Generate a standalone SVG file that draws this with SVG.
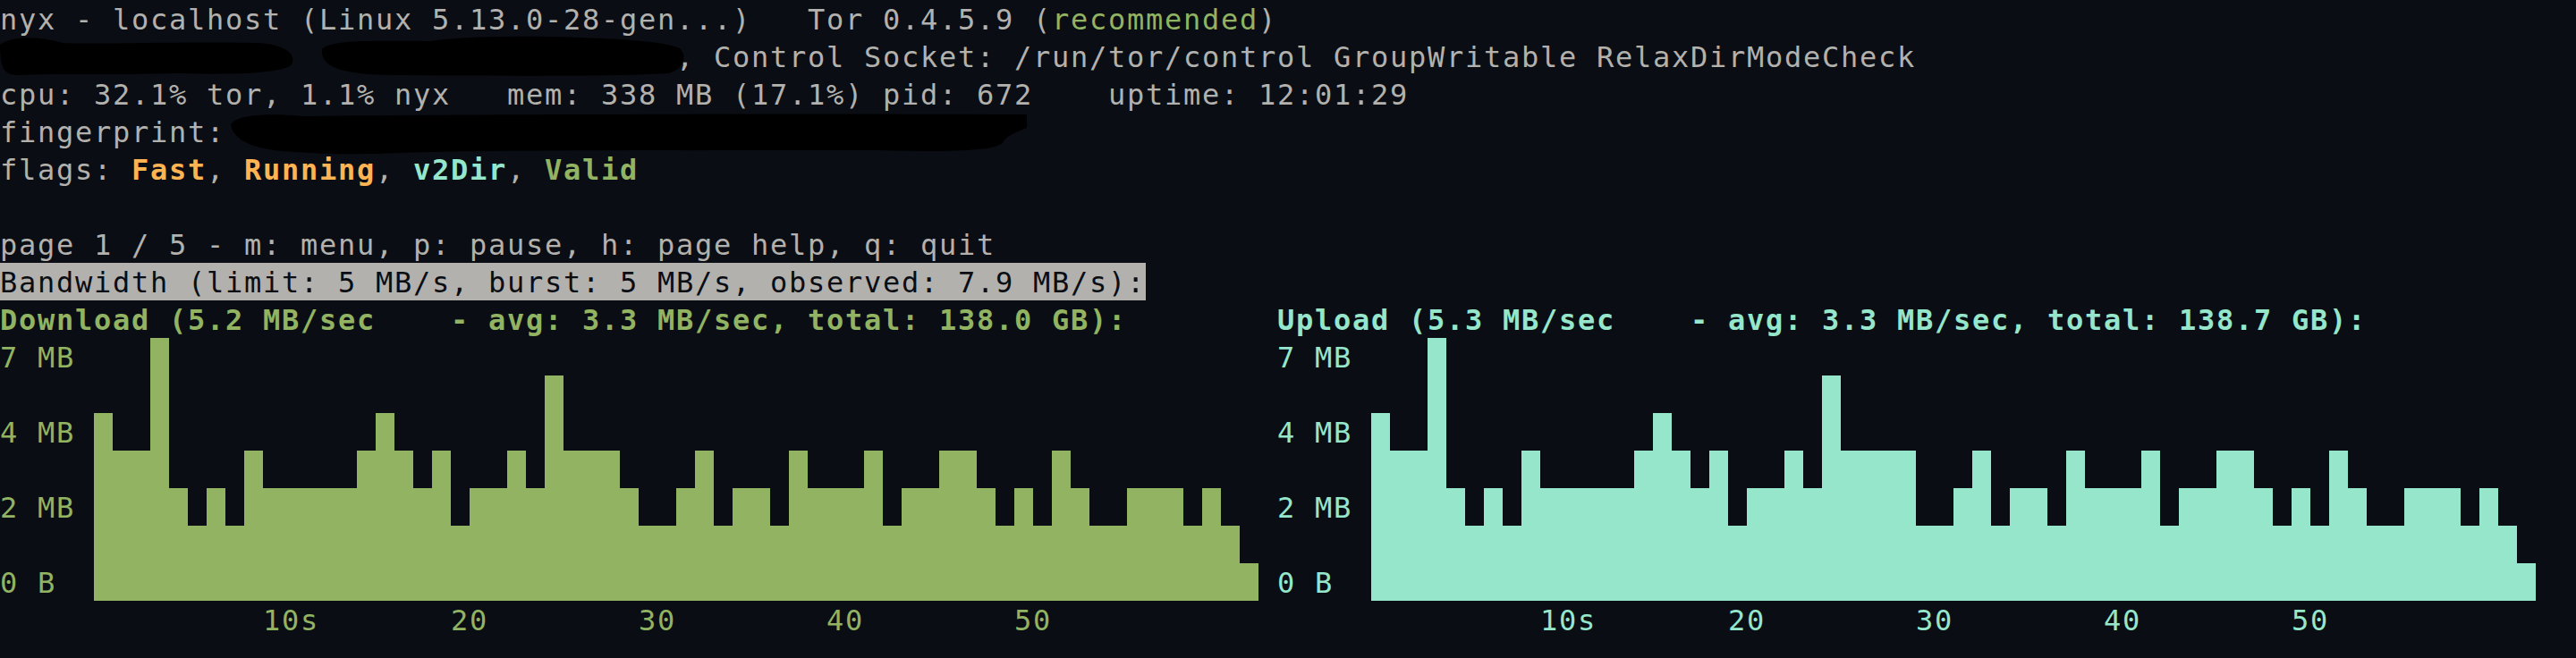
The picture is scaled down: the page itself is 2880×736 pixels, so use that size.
<svg xmlns="http://www.w3.org/2000/svg" width="2880" height="736" viewBox="0 0 2880 736">
<style>
text{font-family:"DejaVu Sans Mono","Liberation Mono",monospace;font-size:32px;letter-spacing:1.734px}
.fg{fill:#B3B1AD}
.inv{fill:#0A0E14}
.gr{fill:#91B362}
.cy{fill:#95E6CB}
.or{fill:#FFB454}
.b{font-weight:bold}
.blob{fill:#000000}
</style>
<rect id="background" x="0" y="0" width="2880" height="736" fill="#0A0E14"/>
<g id="header">
<text class="fg" y="32.5"><tspan x="0">nyx - localhost (Linux 5.13.0-28-gen...)</tspan><tspan x="903">Tor 0.4.5.9 (</tspan><tspan x="1176" class="gr">recommended</tspan><tspan x="1407">)</tspan></text>
<text class="fg" y="74.5"><tspan x="756">,</tspan><tspan x="798">Control Socket: /run/tor/control GroupWritable RelaxDirModeCheck</tspan></text>
<text class="fg" y="116.5"><tspan x="0">cpu: 32.1% tor, 1.1% nyx</tspan><tspan x="567">mem: 338 MB (17.1%) pid: 672</tspan><tspan x="1239">uptime: 12:01:29</tspan></text>
<text class="fg" y="158.5" x="0">fingerprint:</text>
<text class="fg" y="200.5"><tspan x="0">flags:</tspan><tspan x="147" class="or b">Fast</tspan><tspan x="231">,</tspan><tspan x="273" class="or b">Running</tspan><tspan x="420">,</tspan><tspan x="462" class="cy b">v2Dir</tspan><tspan x="567">,</tspan><tspan x="609" class="gr b">Valid</tspan></text>
</g>
<g id="redactions">
<path class="blob" d="M0,50 C12,40 45,40 70,48 C100,50 200,46 290,48 C318,50 332,60 326,72 C318,82 260,84 200,82 C130,84 60,82 20,84 C4,84 0,76 0,50 Z"/>
<path class="blob" d="M360,55 C370,44 420,46 480,46 C520,40 600,40 650,42 C700,44 740,46 760,54 C768,62 766,76 748,82 C680,86 540,85 440,84 C380,84 358,74 360,55 Z"/>
<path class="blob" d="M258,140 C262,128 300,126 340,130 C500,128 800,127 1148,128 L1148,143 C1136,148 1124,152 1121,160 C1110,170 1050,170 980,168 C800,168 600,168 480,170 C420,172 380,174 330,170 C290,168 262,160 258,140 Z"/>
</g>
<g id="menu">
<text class="fg" x="0" y="284.5">page 1 / 5 - m: menu, p: pause, h: page help, q: quit</text>
</g>
<g id="bandwidth-title">
<rect x="0" y="294" width="1281" height="42" fill="#B3B1AD"/>
<text class="inv" x="0" y="326.5">Bandwidth (limit: 5 MB/s, burst: 5 MB/s, observed: 7.9 MB/s):</text>
</g>
<g id="download-graph">
<text class="gr b" y="368.5"><tspan x="0">Download (5.2 MB/sec</tspan><tspan x="504">- avg: 3.3 MB/sec, total: 138.0 GB):</tspan></text>
<text class="gr" x="0" y="410.5">7 MB</text>
<text class="gr" x="0" y="494.5">4 MB</text>
<text class="gr" x="0" y="578.5">2 MB</text>
<text class="gr" x="0" y="662.5">0 B</text>
<path class="gr" d="M105 672 V462 H126 V504 H168 V378 H189 V546 H210 V588 H231 V546 H252 V588 H273 V504 H294 V546 H399 V504 H420 V462 H441 V504 H462 V546 H483 V504 H504 V588 H525 V546 H567 V504 H588 V546 H609 V420 H630 V504 H693 V546 H714 V588 H756 V546 H777 V504 H798 V588 H819 V546 H861 V588 H882 V504 H903 V546 H966 V504 H987 V588 H1008 V546 H1050 V504 H1092 V546 H1113 V588 H1134 V546 H1155 V588 H1176 V504 H1197 V546 H1218 V588 H1260 V546 H1323 V588 H1344 V546 H1365 V588 H1386 V630 H1407 V672 Z"/>
<text class="gr" x="294" y="704.5">10s</text>
<text class="gr" x="504" y="704.5">20</text>
<text class="gr" x="714" y="704.5">30</text>
<text class="gr" x="924" y="704.5">40</text>
<text class="gr" x="1134" y="704.5">50</text>
</g>
<g id="upload-graph">
<text class="cy b" y="368.5"><tspan x="1428">Upload (5.3 MB/sec</tspan><tspan x="1890">- avg: 3.3 MB/sec, total: 138.7 GB):</tspan></text>
<text class="cy" x="1428" y="410.5">7 MB</text>
<text class="cy" x="1428" y="494.5">4 MB</text>
<text class="cy" x="1428" y="578.5">2 MB</text>
<text class="cy" x="1428" y="662.5">0 B</text>
<path class="cy" d="M1533 672 V462 H1554 V504 H1596 V378 H1617 V546 H1638 V588 H1659 V546 H1680 V588 H1701 V504 H1722 V546 H1827 V504 H1848 V462 H1869 V504 H1890 V546 H1911 V504 H1932 V588 H1953 V546 H1995 V504 H2016 V546 H2037 V420 H2058 V504 H2142 V588 H2184 V546 H2205 V504 H2226 V588 H2247 V546 H2289 V588 H2310 V504 H2331 V546 H2394 V504 H2415 V588 H2436 V546 H2478 V504 H2520 V546 H2541 V588 H2562 V546 H2583 V588 H2604 V504 H2625 V546 H2646 V588 H2688 V546 H2751 V588 H2772 V546 H2793 V588 H2814 V630 H2835 V672 Z"/>
<text class="cy" x="1722" y="704.5">10s</text>
<text class="cy" x="1932" y="704.5">20</text>
<text class="cy" x="2142" y="704.5">30</text>
<text class="cy" x="2352" y="704.5">40</text>
<text class="cy" x="2562" y="704.5">50</text>
</g>
</svg>
